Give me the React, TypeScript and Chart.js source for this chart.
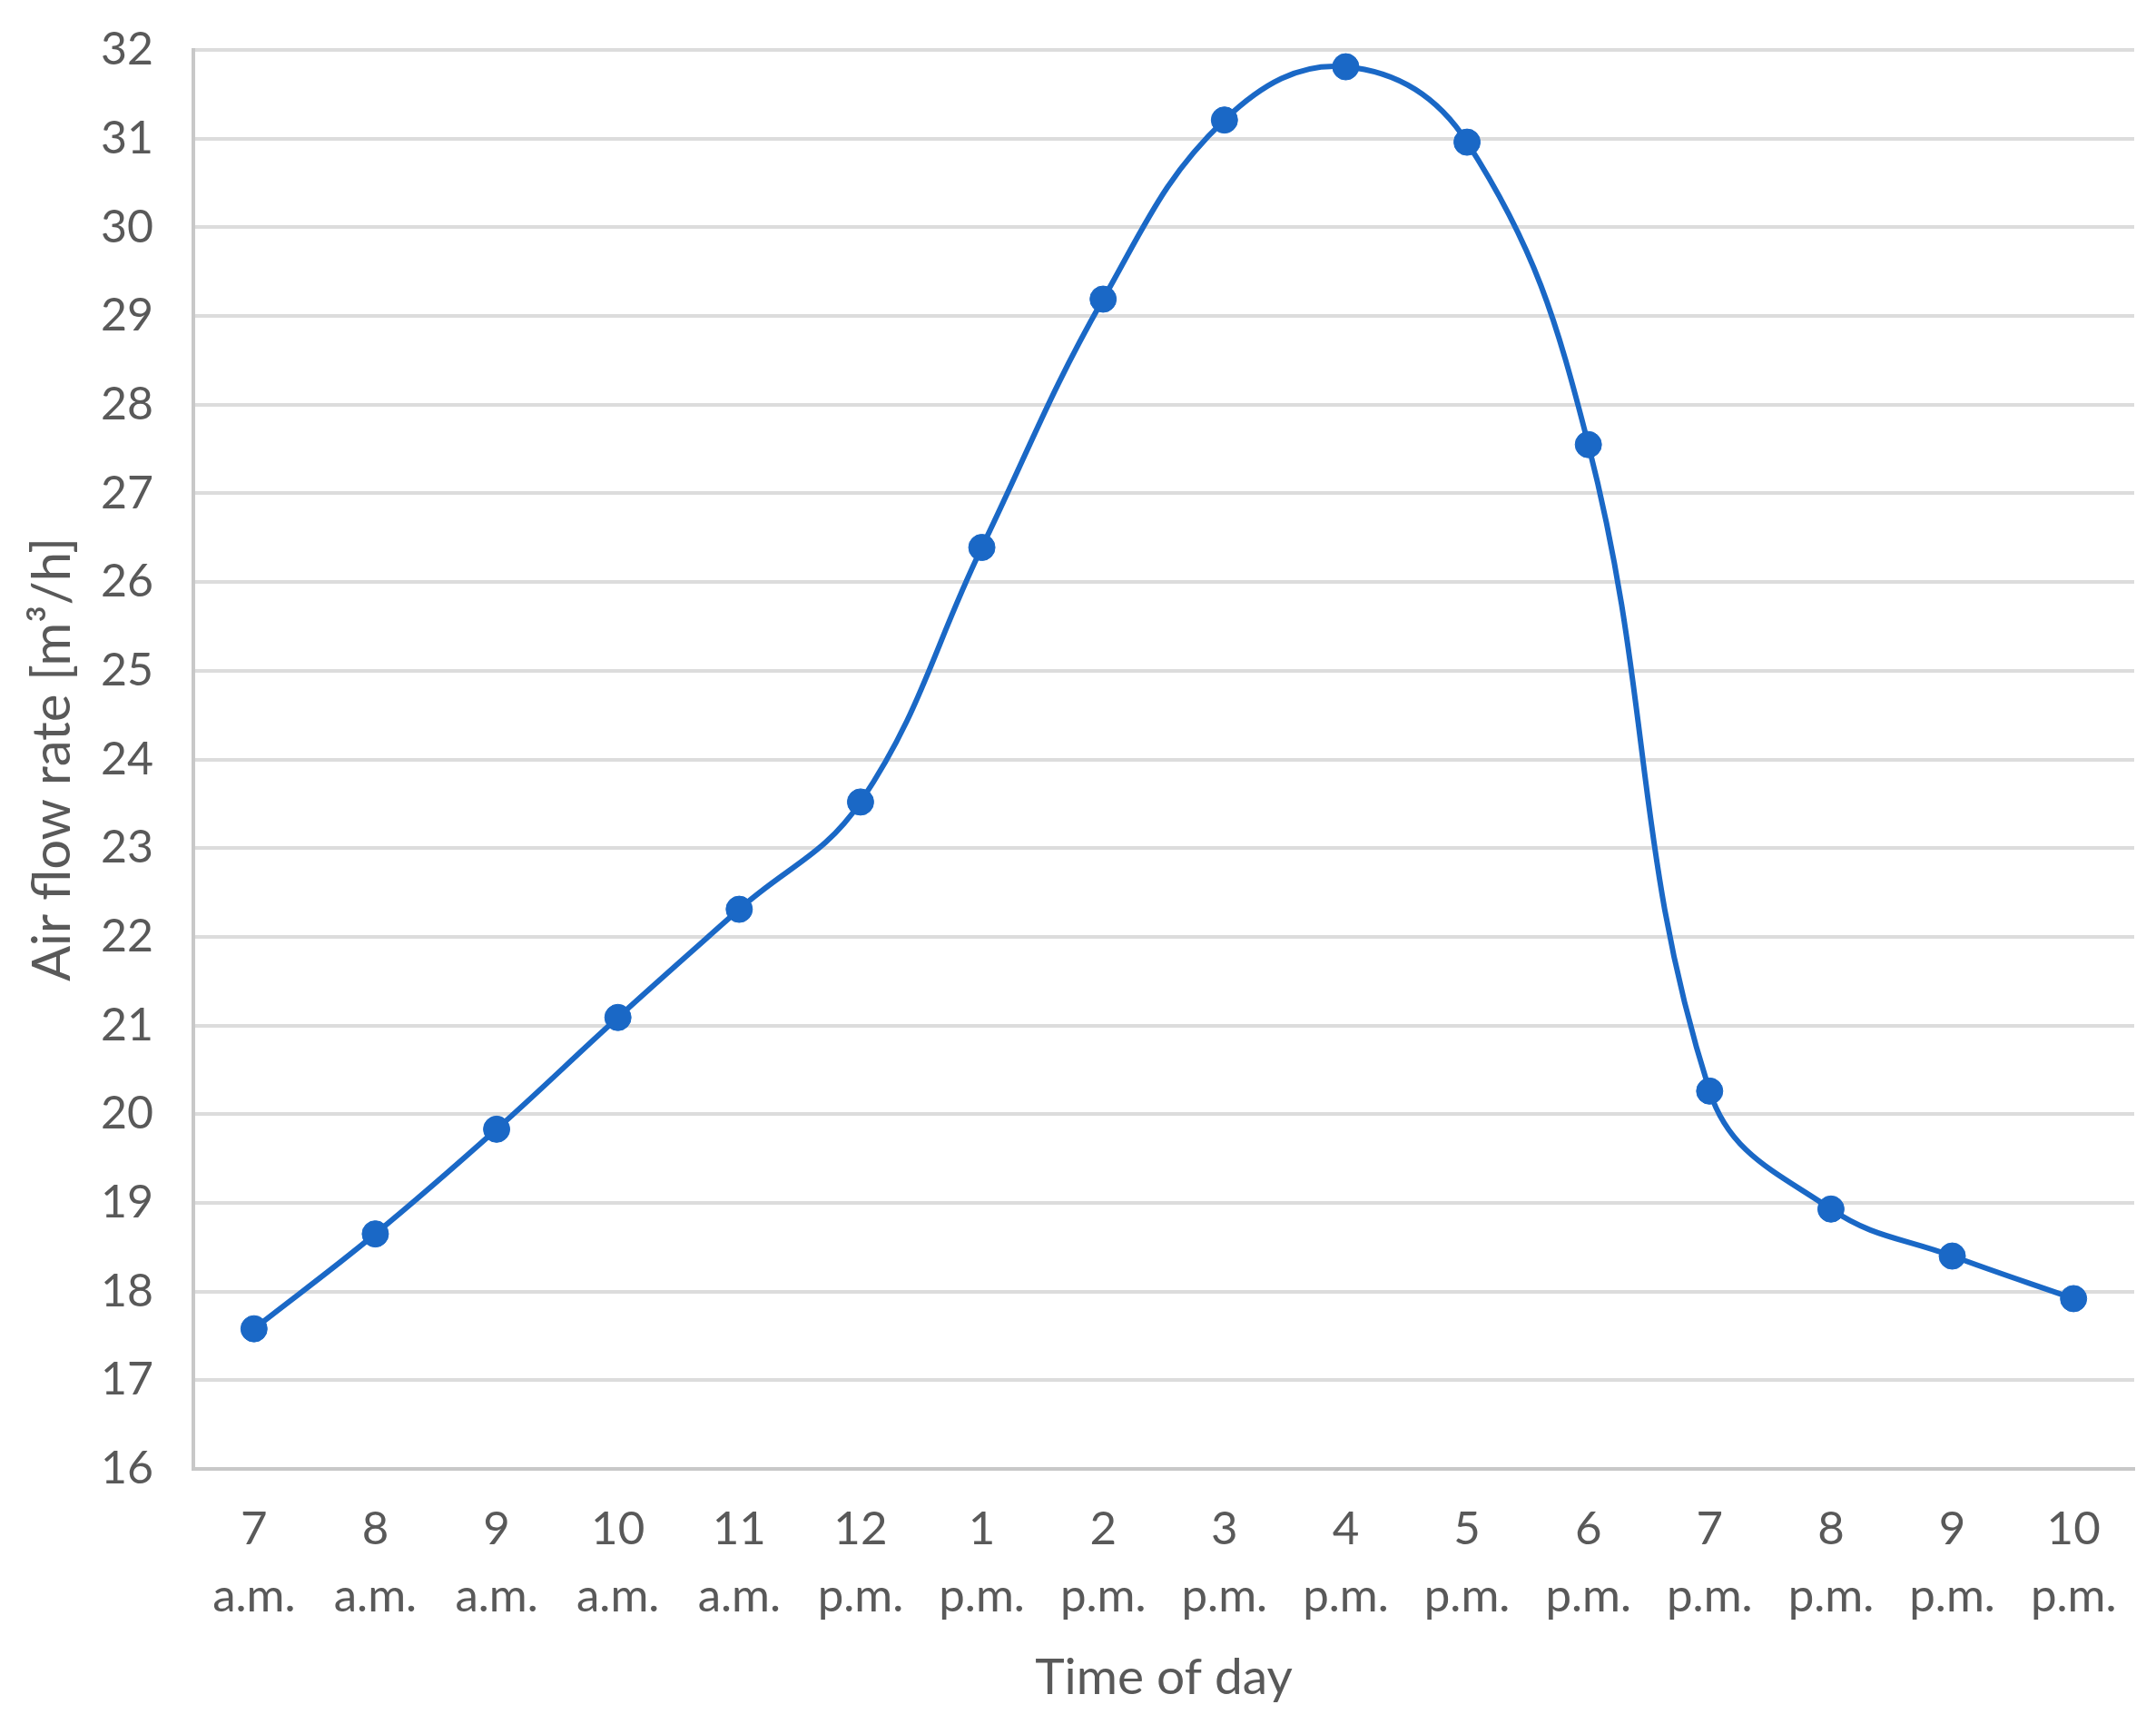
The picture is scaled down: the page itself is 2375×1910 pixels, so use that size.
import React, { useEffect, useRef } from "react";
import { Chart, registerables } from "chart.js";

Chart.register(...registerables);

const timeLabels: string[][] = [
  ["7", "a.m."], ["8", "a.m."], ["9", "a.m."], ["10", "a.m."], ["11", "a.m."],
  ["12", "p.m."], ["1", "p.m."], ["2", "p.m."], ["3", "p.m."], ["4", "p.m."],
  ["5", "p.m."], ["6", "p.m."], ["7", "p.m."], ["8", "p.m."], ["9", "p.m."], ["10", "p.m."],
];

const airFlowRate: number[] = [
  17.58, 18.65, 19.83, 21.09, 22.31, 23.52, 26.39, 29.19,
  31.21, 31.81, 30.96, 27.55, 20.26, 18.93, 18.4, 17.92,
];

const yMin = 16;
const yMax = 32;
const yStep = 1;

const xTitle = "Time of day";
const yTitle = "Air flow rate [m³/h]";

const W = 2375;
const H = 1910;

export default function App() {
  const ref = useRef<HTMLCanvasElement | null>(null);

  useEffect(() => {
    const canvas = ref.current;
    if (!canvas) return;
    const font = "Lato, 'Open Sans', sans-serif";
    const textColor = "#595959";
    const blue = "#1a68c6";
    const chart = new Chart(canvas, {
      type: "line",
      data: {
        labels: timeLabels,
        datasets: [
          {
            data: airFlowRate,
            borderColor: blue,
            backgroundColor: blue,
            borderWidth: 6,
            pointRadius: 14.5,
            pointBackgroundColor: blue,
            pointBorderColor: blue,
            pointBorderWidth: 1,
            tension: 0.4,
            fill: false,
          },
        ],
      },
      options: {
        responsive: false,
        animation: false,
        devicePixelRatio: 1,
        layout: { padding: { top: 55, right: 24, bottom: 0, left: 0 } },
        plugins: {
          legend: { display: false },
          tooltip: { enabled: false },
        },
        scales: {
          x: {
            type: "category",
            offset: true,
            grid: { display: false, drawTicks: false },
            border: { display: true, color: "#c8c8c8", width: 4 },
            ticks: {
              color: textColor,
              padding: 30,
              maxRotation: 0,
              autoSkip: false,
              font: { family: font, size: 51, lineHeight: 1.45 },
            },
            title: {
              display: true,
              text: xTitle,
              color: textColor,
              font: { family: font, size: 55, lineHeight: 1.2 },
              padding: { top: 0, bottom: 29 },
            },
            afterFit: (scale: any) => {
              scale.height = 292;
            },
          },
          y: {
            min: yMin,
            max: yMax,
            grid: {
              color: "#dcdcdc",
              lineWidth: 4,
              drawTicks: true,
              tickLength: 40,
              tickColor: "rgba(0,0,0,0)",
            },
            border: { display: true, color: "#c8c8c8", width: 4 },
            ticks: {
              stepSize: yStep,
              color: textColor,
              padding: 4,
              font: { family: font, size: 50 },
            },
            title: {
              display: true,
              text: yTitle,
              color: textColor,
              font: { family: font, size: 58, lineHeight: 1.2 },
              padding: { top: 23, bottom: 0 },
            },
            afterFit: (scale: any) => {
              scale.width = 213;
            },
          },
        },
      },
    });
    return () => chart.destroy();
  }, []);

  return (
    <div style={{ position: "absolute", left: 0, top: 0, width: W, height: H, background: "#fff" }}>
      <canvas ref={ref} width={W} height={H} style={{ display: "block", width: W, height: H }} />
    </div>
  );
}
